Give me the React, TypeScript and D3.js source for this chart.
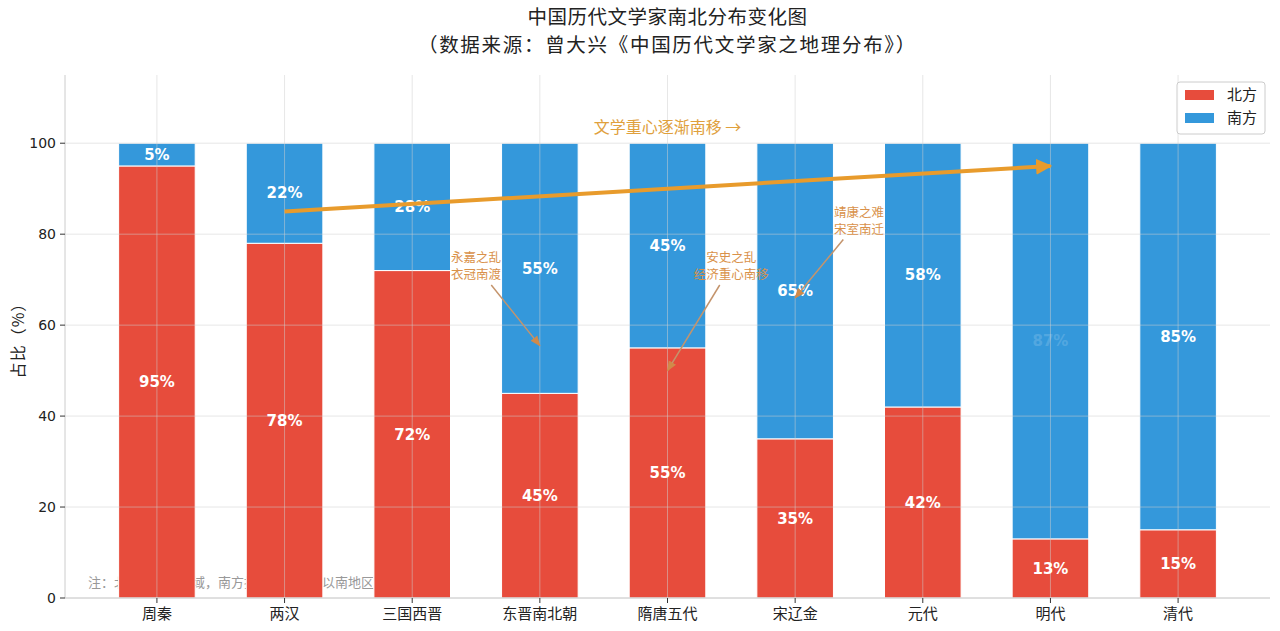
import React from "react";
import * as d3 from "d3";

const categories = ["周秦", "两汉", "三国西晋", "东晋南北朝", "隋唐五代", "宋辽金", "元代", "明代", "清代"];
const northValues = [95, 78, 72, 45, 55, 35, 42, 13, 15];
const southValues = [5, 22, 28, 55, 45, 65, 58, 87, 85];
const yTicks = [0, 20, 40, 60, 80, 100];
const seriesNames = ["北方", "南方"];
const seriesColors = ["#E74C3C", "#3498DB"];
const annotations = [
  { lines: ["永嘉之乱", "衣冠南渡"], tx: 2.5, ty: 73, x: 3, y: 55.5 },
  { lines: ["安史之乱", "经济重心南移"], tx: 4.5, ty: 73, x: 4, y: 50 },
  { lines: ["靖康之难", "宋室南迁"], tx: 5.5, ty: 83, x: 5, y: 66 },
];
const trend = { x1: 1, y1: 85, x2: 7, y2: 95, label: "文学重心逐渐南移 →", lx: 4, ly: 103.5 };
const titleLines = ["中国历代文学家南北分布变化图", "（数据来源：曾大兴《中国历代文学家之地理分布》）"];
const note = "注：北方指黄河流域，南方指长江流域及以南地区";

const W = 1280, H = 631;
const L = 65, R = 1270, T = 75, B = 598;
const CJK = "'Noto Sans CJK SC', 'Noto Sans', sans-serif";
const NUM = "'DejaVu Sans', sans-serif";

export default function App() {
  const x = d3.scaleLinear().domain([-0.72, categories.length - 1 + 0.72]).range([L, R]);
  const y = d3.scaleLinear().domain([0, 115]).range([B, T]);
  const bw = (x(0.6) - x(0));

  const arrowFrom = (a) => {
    const cx = x(a.tx), cy = y(a.ty);
    const ex = x(a.x), ey = y(a.y);
    const dx = ex - cx, dy = ey - cy;
    const hw = 34, hh = 19;
    const t = Math.min(Math.abs(hw / dx), Math.abs(hh / dy));
    return { sx: cx + dx * t, sy: cy + dy * t, ex, ey };
  };

  return (
    <svg width={W} height={H} style={{ display: "block", position: "absolute", left: 0, top: 0, background: "#fff" }}>
      <defs>
        <marker id="trendHead" viewBox="0 0 10 10" refX="9" refY="5" markerWidth="4" markerHeight="4" orient="auto" markerUnits="strokeWidth">
          <path d="M0,0 L10,5 L0,10 z" fill="#E89B2C" />
        </marker>
        <marker id="annHead" viewBox="0 0 10 10" refX="9" refY="5" markerWidth="7" markerHeight="7" orient="auto" markerUnits="strokeWidth">
          <path d="M0,1 L10,5 L0,9 z" fill="#D08A4A" />
        </marker>
      </defs>
      <rect x={0} y={0} width={W} height={H} fill="#fff" />
      {/* titles */}
      {titleLines.map((t, i) => (
        <text key={i} x={(L + R) / 2} y={24 + i * 28} textAnchor="middle" fontFamily={CJK} fontSize={19.5} letterSpacing={i === 1 ? 1.7 : 0.5} fill="#222">{t}</text>
      ))}
      {/* note behind bars */}
      <text x={88} y={587} fontFamily={CJK} fontSize={13} fill="#999">{note}</text>
      {/* bars */}
      {categories.map((c, i) => (
        <g key={c}>
          <rect x={x(i) - bw / 2} y={y(northValues[i])} width={bw} height={y(0) - y(northValues[i])} fill={seriesColors[0]} stroke="#fff" strokeWidth={1} />
          <rect x={x(i) - bw / 2} y={y(northValues[i] + southValues[i])} width={bw} height={y(northValues[i]) - y(northValues[i] + southValues[i])} fill={seriesColors[1]} stroke="#fff" strokeWidth={1} />
        </g>
      ))}
      {/* grid */}
      {yTicks.map((t) => (
        <line key={"gy" + t} x1={L} x2={R} y1={y(t)} y2={y(t)} stroke="#d0d0d0" strokeOpacity={0.5} strokeWidth={1} />
      ))}
      {categories.map((c, i) => (
        <line key={"gx" + c} x1={x(i)} x2={x(i)} y1={T} y2={B} stroke="#d0d0d0" strokeOpacity={0.5} strokeWidth={1} />
      ))}
      {/* spines */}
      <line x1={L} x2={L} y1={T} y2={B} stroke="#ccc" strokeWidth={1} />
      <line x1={L} x2={R} y1={B} y2={B} stroke="#ccc" strokeWidth={1} />
      {/* y ticks */}
      {yTicks.map((t) => (
        <g key={"yt" + t}>
          <line x1={L - 5} x2={L} y1={y(t)} y2={y(t)} stroke="#333" />
          <text x={L - 9} y={y(t)} dy="0.35em" textAnchor="end" fontFamily={NUM} fontSize={14} fill="#222">{t}</text>
        </g>
      ))}
      {/* x ticks */}
      {categories.map((c, i) => (
        <g key={"xt" + c}>
          <line x1={x(i)} x2={x(i)} y1={B} y2={B + 5} stroke="#333" />
          <text x={x(i)} y={B + 21} textAnchor="middle" fontFamily={CJK} fontSize={15} fill="#222">{c}</text>
        </g>
      ))}
      <text transform={`translate(24,${(T + B) / 2}) rotate(-90)`} textAnchor="middle" fontFamily={CJK} fontSize={16} letterSpacing={1} fill="#222">占比（%）</text>
      {/* value labels */}
      {categories.map((c, i) => (
        <g key={"lb" + c} fontFamily={NUM} fontWeight="bold" fontSize={15} fill="#fff" textAnchor="middle">
          <text x={x(i)} y={y(northValues[i] / 2)} dy="0.35em">{northValues[i]}%</text>
          <text x={x(i)} y={y(northValues[i] + southValues[i] / 2)} dy="0.35em" opacity={i === 7 ? 0.15 : 1}>{southValues[i]}%</text>
        </g>
      ))}
      {/* trend arrow */}
      <line x1={x(trend.x1)} y1={y(trend.y1)} x2={x(trend.x2)} y2={y(trend.y2)} stroke="#E89B2C" strokeWidth={4} markerEnd="url(#trendHead)" />
      <text x={x(trend.lx)} y={y(trend.ly)} dy="0.35em" textAnchor="middle" fontFamily={CJK} fontSize={16} fill="#E0A03C">{trend.label}</text>
      {/* annotations */}
      {annotations.map((a, k) => {
        const p = arrowFrom(a);
        return (
          <g key={"an" + k}>
            <line x1={p.sx} y1={p.sy} x2={p.ex} y2={p.ey} stroke="#C4946C" strokeWidth={1.5} markerEnd="url(#annHead)" />
            {a.lines.map((ln, j) => (
              <text key={j} x={x(a.tx)} y={y(a.ty) + (j - 0.5) * 17 + 4.5} textAnchor="middle" fontFamily={CJK} fontSize={12.5} fill="#D9914A">{ln}</text>
            ))}
          </g>
        );
      })}
      {/* legend */}
      <g>
        <rect x={1177} y={82} width={88} height={52} rx={3} fill="#fff" fillOpacity={0.85} stroke="#ccc" />
        {seriesNames.map((s, i) => (
          <g key={s}>
            <rect x={1185} y={90 + i * 23} width={29} height={10} fill={seriesColors[i]} />
            <text x={1227} y={95 + i * 23} dy="0.35em" fontFamily={CJK} fontSize={15} fill="#222">{s}</text>
          </g>
        ))}
      </g>
    </svg>
  );
}
